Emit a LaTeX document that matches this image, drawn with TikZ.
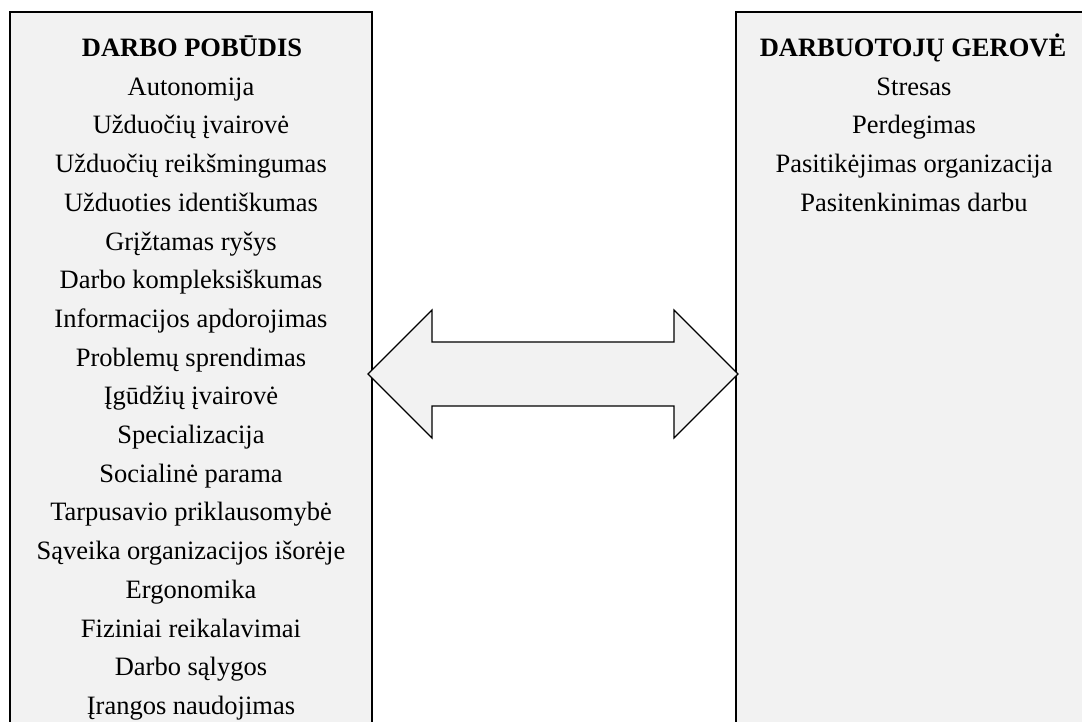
\documentclass[tikz,border=0pt]{standalone}
\usepackage{fontspec}
\setmainfont{Liberation Serif}
\definecolor{boxgray}{HTML}{F2F2F2}
\tikzset{
  panel/.style={draw=black, fill=boxgray, line width=1.2pt},
  bigarrow/.style={draw=black, fill=boxgray, line width=1.2pt, line join=miter},
  ttl/.style={anchor=base, inner sep=0pt, font=\fontsize{26.5}{30}\selectfont\bfseries},
  itm/.style={anchor=base, inner sep=0pt, font=\fontsize{26.5}{30}\selectfont},
}
\begin{document}
\begin{tikzpicture}[x=1pt,y=1pt]
\useasboundingbox (0,0) rectangle (1082,722);
\clip (0,0) rectangle (1082,722);
% boxes
\coordinate (L1) at (10,710);
\coordinate (L2) at (372,-20);
\coordinate (R1) at (736,710);
\coordinate (R2) at (1100,-20);
\draw[panel] (L1) rectangle (L2);
\draw[panel] (R1) rectangle (R2);
% double arrow
\draw[bigarrow] (368,348) -- (432,412) -- (432,380) -- (674,380) -- (674,412)
  -- (738,348) -- (674,284) -- (674,316) -- (432,316) -- (432,284) -- cycle;
% left texts
\node[ttl] (lt) at (192,665.3) {DARBO POBŪDIS};
\foreach \t [count=\i from 0] in {Autonomija,Užduočių įvairovė,Užduočių reikšmingumas,Užduoties identiškumas,Grįžtamas ryšys,Darbo kompleksiškumas,Informacijos apdorojimas,Problemų sprendimas,Įgūdžių įvairovė,Specializacija,Socialinė parama,Tarpusavio priklausomybė,Sąveika organizacijos išorėje,Ergonomika,Fiziniai reikalavimai,Darbo sąlygos,Įrangos naudojimas}
  \node[itm] (l\i) at (191,626.7-38.7*\i) {\t};
% right texts
\node[ttl] (rt) at (913,665.3) {DARBUOTOJŲ GEROVĖ};
\foreach \t [count=\i from 0] in {Stresas,Perdegimas,Pasitikėjimas organizacija,Pasitenkinimas darbu}
  \node[itm] (r\i) at (914,626.7-38.7*\i) {\t};
\end{tikzpicture}
\end{document}
